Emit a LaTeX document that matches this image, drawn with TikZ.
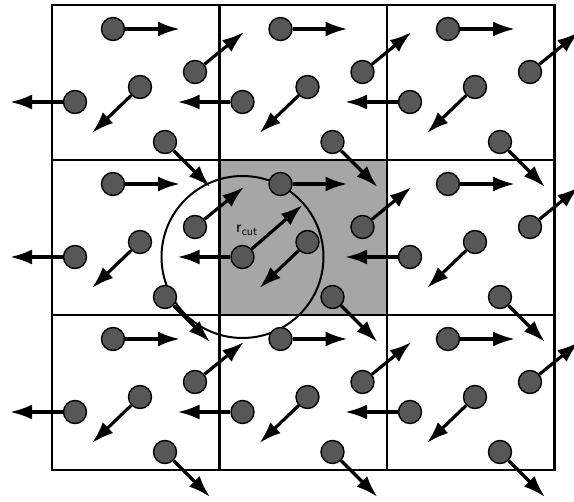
\documentclass[tikz,border=0pt]{standalone}
\usepackage{amsmath}
\usetikzlibrary{arrows.meta}

\begin{document}
\begin{tikzpicture}[x=1pt,y=-1pt,
	particle/.style={circle,draw=black,line width=1.4pt,fill=black!66,minimum size=23pt,inner sep=0pt},
	vec/.style={line width=3.2pt,-{Latex[length=22pt,width=15pt]}},
	cellbox/.style={line width=2.2pt}]
	\useasboundingbox (0,0) rectangle (574,502);
	
	% 中心元胞
	\fill[black!35] (219.5,160) rectangle (387,315);
	
	% 周期网格
	\foreach \cx in {52,219.5,387} {
		\foreach \cy in {5,160,315} {
			\draw[cellbox] (\cx,\cy) rectangle ++(167.5,155);
		}
	}
	
	% 截断半径圆
	\draw[line width=2pt] (242.5,257) circle (81pt);
	
	% 粒子及其速度
	\foreach \cx/\i in {52/1,219.5/2,387/3} {
		\foreach \cy/\j in {5/1,160/2,315/3} {
			\foreach \n/\px/\py/\dx/\dy in {a/61/24/67/0, b/143/67/49/-40, c/23/97/-65/0, d/88/82/-48/46, e/113/137/45/45} {
				\node[particle] (\n\i\j) at (\cx+\px,\cy+\py) {};
				\coordinate (t\n\i\j) at (\cx+\px+\dx,\cy+\py+\dy);
				\draw[vec] (\n\i\j) -- (t\n\i\j);
			}
		}
	}
	
	% 标注截断半径
	\coordinate (rc) at (302.5,205);
	\draw[vec] (c22) -- (rc);
	\node[font=\fontsize{17}{19}\selectfont] (rlab) at (247,230) {$\mathsf{r}_{\mathsf{cut}}$};
\end{tikzpicture}
\end{document}
